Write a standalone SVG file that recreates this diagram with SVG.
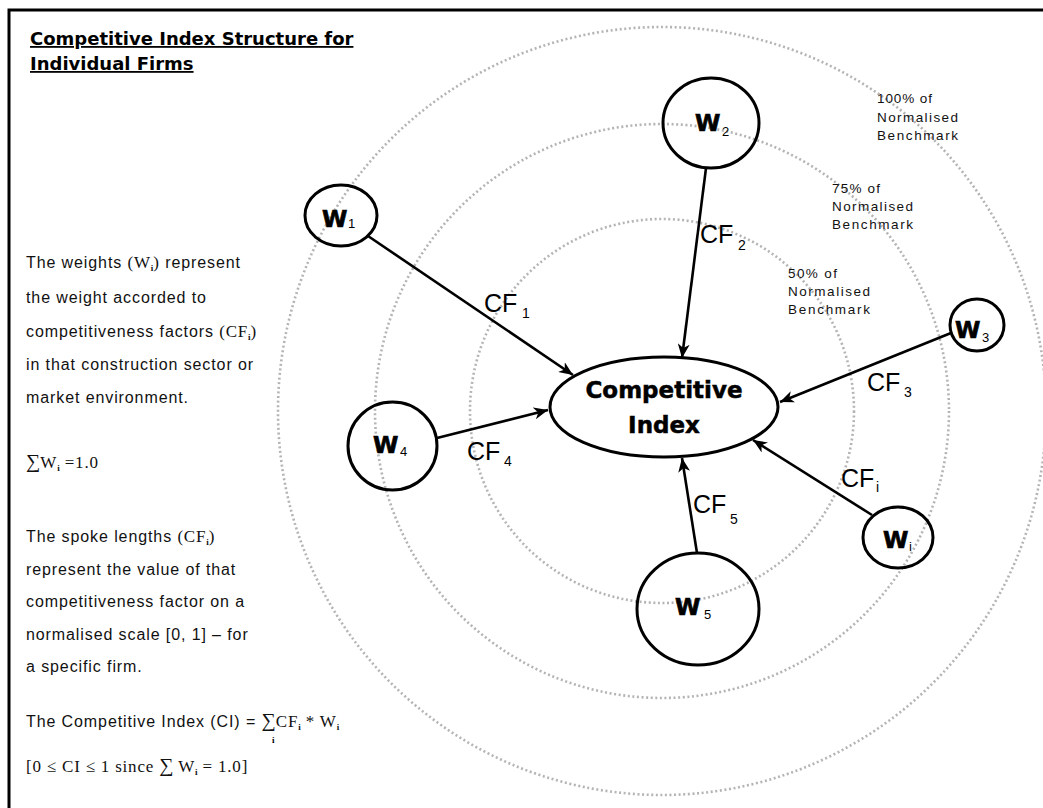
<svg xmlns="http://www.w3.org/2000/svg" width="1043" height="808" viewBox="0 0 1043 808">
<defs>
<style>
.ring{fill:none;stroke:#b4b4b4;stroke-width:2.6;stroke-dasharray:2 2.6}
.node{fill:none;stroke:#000;stroke-width:3}
.hub{fill:#fff;stroke:#000;stroke-width:3}
.wl{font-family:"DejaVu Sans",sans-serif;font-weight:bold;font-size:23px;fill:#000;stroke:#000;stroke-width:0.7}
.hl{font-family:"DejaVu Sans",sans-serif;font-weight:bold;font-size:23px;fill:#000;stroke:#000;stroke-width:0.5}
.ws{font-family:"Liberation Sans",Arial,sans-serif;font-size:13px;fill:#000}
.cf{font-family:"Liberation Sans",Arial,sans-serif;font-size:25px;fill:#000}
.cfs{font-family:"Liberation Sans",Arial,sans-serif;font-size:14px;fill:#000}
.bm{font-family:"Liberation Sans",Arial,sans-serif;font-size:13.5px;fill:#111}
.body{font-family:"Liberation Sans",Arial,sans-serif;font-size:16px;letter-spacing:0.9px;fill:#111}
.ser{font-family:"Liberation Serif","Times New Roman",serif;font-size:17px;letter-spacing:0.8px}
.sig{font-family:"Liberation Serif","Times New Roman",serif;font-size:20px;letter-spacing:0}
.sub{font-family:"Liberation Serif","Times New Roman",serif;font-weight:bold;font-size:9px;letter-spacing:0}
.title{font-family:"DejaVu Sans",sans-serif;font-weight:bold;font-size:18px;fill:#000;text-decoration:underline}
.edge{stroke:#000;stroke-width:2.6;fill:none;marker-end:url(#arr)}
</style>
<marker id="arr" markerUnits="userSpaceOnUse" markerWidth="16" markerHeight="12" refX="14" refY="6" orient="auto">
<path d="M0,0 L14,6 L0,12 L4,6 z" fill="#000"/>
</marker>
</defs>
<rect x="0" y="0" width="1043" height="808" fill="#fff"/>
<rect x="9" y="10" width="1100" height="900" fill="none" stroke="#000" stroke-width="3"/>

<g id="rings">
<circle class="ring" cx="662" cy="411" r="192"/>
<circle class="ring" cx="662" cy="411" r="287"/>
<circle class="ring" cx="662" cy="411" r="384"/>
</g>

<g id="title">
<text class="title" x="30" y="45">Competitive Index Structure for</text>
<text class="title" x="30" y="70">Individual Firms</text>
</g>

<g id="description">
<text class="body" x="26" y="268">The weights <tspan class="ser">(W</tspan><tspan class="sub" dy="3">i</tspan><tspan class="ser" dy="-3">)</tspan> represent</text>
<text class="body" x="26" y="303">the weight accorded to</text>
<text class="body" x="26" y="337">competitiveness factors <tspan class="ser">(CF</tspan><tspan class="sub" dy="3">i</tspan><tspan class="ser" dy="-3">)</tspan></text>
<text class="body" x="26" y="370">in that construction sector or</text>
<text class="body" x="26" y="403">market environment.</text>
<text class="body" x="26" y="468"><tspan class="sig">∑</tspan><tspan class="ser">W</tspan><tspan class="sub" dy="3">i</tspan><tspan class="ser" dy="-3"> =1.0</tspan></text>
<text class="body" x="26" y="542">The spoke lengths <tspan class="ser">(CF</tspan><tspan class="sub" dy="3">i</tspan><tspan class="ser" dy="-3">)</tspan></text>
<text class="body" x="26" y="575">represent the value of that</text>
<text class="body" x="26" y="607">competitiveness factor on a</text>
<text class="body" x="26" y="640">normalised scale [0, 1] – for</text>
<text class="body" x="26" y="672">a specific firm.</text>
<text class="body" x="26" y="727">The Competitive Index (CI) = <tspan class="sig">∑</tspan><tspan class="ser">CF</tspan><tspan class="sub" dy="3">i</tspan><tspan class="ser" dy="-3"> * W</tspan><tspan class="sub" dy="3">i</tspan></text>
<text class="sub" x="272" y="743">i</text>
<text class="body" x="26" y="772"><tspan class="ser">[0 ≤ CI ≤ 1 since </tspan><tspan class="sig">∑</tspan><tspan class="ser"> W</tspan><tspan class="sub" dy="3">i</tspan><tspan class="ser" dy="-3"> = 1.0]</tspan></text>
</g>

<g id="benchmarks">
<text class="bm" x="877" y="103" textLength="55" lengthAdjust="spacing">100% of</text>
<text class="bm" x="877" y="122" textLength="81" lengthAdjust="spacing">Normalised</text>
<text class="bm" x="877" y="140" textLength="81" lengthAdjust="spacing">Benchmark</text>
<text class="bm" x="832" y="193" textLength="48" lengthAdjust="spacing">75% of</text>
<text class="bm" x="832" y="211" textLength="81" lengthAdjust="spacing">Normalised</text>
<text class="bm" x="832" y="229" textLength="81" lengthAdjust="spacing">Benchmark</text>
<text class="bm" x="788" y="278" textLength="49" lengthAdjust="spacing">50% of</text>
<text class="bm" x="788" y="296" textLength="82" lengthAdjust="spacing">Normalised</text>
<text class="bm" x="788" y="314" textLength="82" lengthAdjust="spacing">Benchmark</text>
</g>

<g id="connectors">
<line class="edge" x1="368" y1="236" x2="573" y2="375"/>
<line class="edge" x1="706" y1="168" x2="682" y2="358"/>
<line class="edge" x1="951" y1="333" x2="780" y2="402"/>
<line class="edge" x1="872" y1="515" x2="753" y2="440"/>
<line class="edge" x1="697" y1="553" x2="682" y2="458"/>
<line class="edge" x1="437" y1="438" x2="548" y2="410"/>
<text class="cf" x="484" y="312">CF</text><text class="cfs" x="522" y="318">1</text>
<text class="cf" x="700" y="243">CF</text><text class="cfs" x="738" y="250">2</text>
<text class="cf" x="867" y="391">CF</text><text class="cfs" x="904" y="397">3</text>
<text class="cf" x="467" y="460">CF</text><text class="cfs" x="504" y="466">4</text>
<text class="cf" x="841" y="487">CF</text><text class="cfs" x="876" y="492">i</text>
<text class="cf" x="693" y="513">CF</text><text class="cfs" x="730" y="524">5</text>
</g>

<g id="hub">
<ellipse class="hub" cx="664" cy="407" rx="114" ry="50"/>
<text class="hl" x="664" y="398" text-anchor="middle">Competitive</text>
<text class="hl" x="664" y="433" text-anchor="middle">Index</text>
</g>

<g id="w1">
<ellipse class="node" cx="341" cy="215.5" rx="36" ry="30.5"/>
<text class="wl" x="322" y="227">W</text><text class="ws" x="348" y="228">1</text>
</g>
<g id="w2">
<ellipse class="node" cx="711" cy="123" rx="48" ry="45"/>
<text class="wl" x="695" y="131">W</text><text class="ws" x="722" y="136">2</text>
</g>
<g id="w3">
<ellipse class="node" cx="977" cy="325" rx="27" ry="26"/>
<text class="wl" x="955" y="338">W</text><text class="ws" x="982" y="342">3</text>
</g>
<g id="w4">
<ellipse class="node" cx="392.5" cy="446" rx="44.5" ry="44"/>
<text class="wl" x="373" y="453">W</text><text class="ws" x="400" y="456">4</text>
</g>
<g id="w5">
<ellipse class="node" cx="698" cy="609" rx="61" ry="56"/>
<text class="wl" x="675" y="615">W</text><text class="ws" x="704" y="619">5</text>
</g>
<g id="wi">
<ellipse class="node" cx="898" cy="537.5" rx="35" ry="30.5"/>
<text class="wl" x="883" y="548">W</text><text class="ws" x="909" y="551">i</text>
</g>
</svg>
